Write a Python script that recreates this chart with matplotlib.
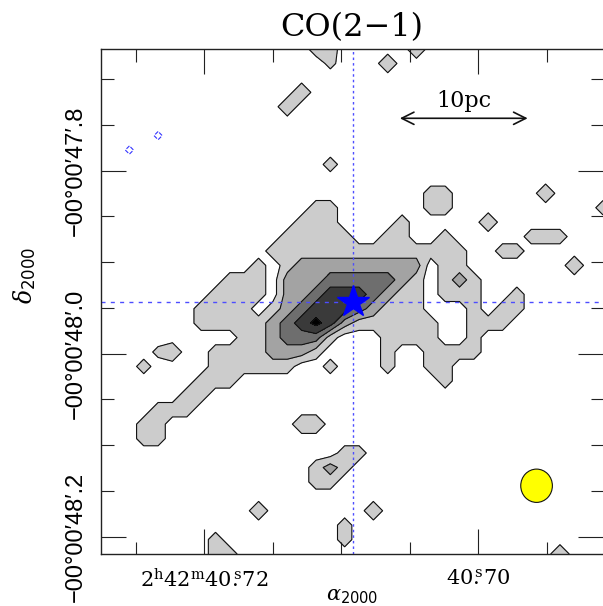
import numpy as np
import matplotlib.pyplot as plt
from matplotlib.patches import Ellipse
from matplotlib.ticker import MultipleLocator

# map grid: RA in seconds of 2h42m, Dec in arcsec of -00d00m
n_ra, n_dec = 36, 36
ra_first, ra_last = 40.72756, 40.69089
dec_first, dec_last = -47.6670, -48.2189

# contour level of each map pixel, stored as runs: (row, first column, levels)
# '.' below first contour, 'a'/'b' weak/strong first level, 'k' peak, '-' negative
map_runs = [
    (0, 15, "11"), (0, 22, "b"),
    (1, 16, "a"), (1, 20, "b"),
    (3, 14, "b"),
    (4, 13, "b"),
    (6, 4, "-"),
    (7, 2, "-"),
    (8, 16, "1"),
    (10, 23, "11"), (10, 31, "b"),
    (11, 15, "11"), (11, 23, "11"), (11, 35, "1"),
    (12, 14, "111"), (12, 21, "1"), (12, 27, "b"),
    (13, 13, "11111..11..1"), (13, 30, "111"),
    (14, 12, "11111111111111"), (14, 28, "11"),
    (15, 11, "1.1222222222.11"), (15, 33, "b"),
    (16, 9, "111.2223333321.121"),
    (17, 8, "1111.2234443211.111..1"),
    (18, 7, "1111.12344432111...1.11"),
    (19, 7, "11111234k42111111..111"),
    (20, 10, "1123331...1111..1"),
    (21, 4, "ab..11112221....1..1111"),
    (22, 3, "1....111111..1...1..11"),
    (23, 7, "111"), (23, 24, "1"),
    (24, 6, "11"),
    (25, 4, "111"),
    (26, 3, "11"), (26, 14, "bb"),
    (27, 3, "11"),
    (28, 17, "11"),
    (29, 15, "121"),
    (30, 15, "11"),
    (32, 11, "b"), (32, 19, "b"),
    (33, 17, "1"),
    (34, 8, "1"), (34, 17, "1"),
    (35, 8, "11"), (35, 32, "b"),
]
level_values = {'.': 0.0, 'a': 0.8, '1': 1.0, 'b': 1.4, '2': 2.0, '3': 3.0,
                '4': 4.0, 'k': 4.8, '-': -0.7}

contour_levels = [0.5, 1.5, 2.5, 3.5, 4.5]
fill_colors = ['#cccccc', '#a3a3a3', '#6e6e6e', '#3a3a3a', '#000000']

star_ra, star_dec = 40.70917, -47.9430
beam_ra, beam_dec = 40.69574, -48.1443
beam_w, beam_h = 0.00231, 0.0364
bar_ra = [40.70572, 40.69639]
bar_dec = -47.7427
bar_label = '10pc'

ra_ticks = [40.72, 40.70]
ra_labels = [r'$2^{\rm h}42^{\rm m}40\overset{\rm s}{.}72$', r'$40\overset{\rm s}{.}70$']
dec_ticks = [-47.8, -48.0, -48.2]
dec_labels = ['−00°00′47′.8', '−00°00′48′.0', '−00°00′48′.2']

plt.rcParams['mathtext.fontset'] = 'dejavuserif'

z = np.zeros((n_dec, n_ra))
for row, col, vals in map_runs:
    for k, ch in enumerate(vals):
        z[row, col + k] = level_values[ch]
ra = np.linspace(ra_first, ra_last, n_ra)
dec = np.linspace(dec_first, dec_last, n_dec)

fig = plt.figure(figsize=(6.03, 6.06), dpi=100)
ax = fig.add_axes([0.167, 0.0858, 0.833, 0.8333])

ax.contourf(ra, dec, z, levels=contour_levels + [10], colors=fill_colors)
ax.contour(ra, dec, z, levels=contour_levels, colors='#111111', linewidths=0.8)
ax.contour(ra, dec, z, levels=[-0.5], colors='#3333ff', linewidths=0.8,
           linestyles='dashed')

# source position
ax.axvline(star_ra, color='#4d4dff', lw=1.0, ls=(0, (1.8, 2.2)))
ax.axhline(star_dec, color='#4d4dff', lw=1.0, ls=(0, (2.9, 3.8)))
ax.plot(star_ra, star_dec, marker='*', ms=24, color='#0000ff', mec='#0000ff')

# beam
ax.add_patch(Ellipse((beam_ra, beam_dec), beam_w, beam_h, fc='#ffff00',
                     ec='#111111', lw=0.8, zorder=5))

# scale bar
ax.annotate('', xy=(bar_ra[0], bar_dec), xytext=(bar_ra[1], bar_dec),
            arrowprops=dict(arrowstyle='<->', lw=1.2, color='#111111',
                            mutation_scale=22, shrinkA=0, shrinkB=0))
ax.annotate(bar_label, xy=(np.mean(bar_ra), bar_dec), xytext=(0, 8),
            textcoords='offset points', ha='center', va='baseline',
            fontsize=16, family='DejaVu Serif')

ax.set_xlim(ra_first, ra_last)
ax.set_ylim(dec_last, dec_first)

ax.set_xticks(ra_ticks, labels=ra_labels, fontsize=15)
ax.xaxis.set_minor_locator(MultipleLocator(0.005))
ax.set_yticks(dec_ticks, labels=dec_labels, fontsize=17, rotation=90, va='center',
              family=['Liberation Sans', 'DejaVu Sans'])
ax.yaxis.set_minor_locator(MultipleLocator(0.05))
ax.tick_params(which='both', direction='in', top=True, right=True, width=0.8,
               color='#222222')
ax.tick_params(which='major', length=18)
ax.tick_params(which='minor', length=9)
ax.tick_params(axis='x', pad=10)
ax.tick_params(axis='y', pad=10)

for side in ['left', 'bottom', 'top']:
    ax.spines[side].set_linewidth(1.0)
    ax.spines[side].set_color('#222222')
ax.spines['right'].set_visible(False)

ax.set_title('CO(2−1)', fontsize=23, family='DejaVu Serif', pad=9)
ax.set_xlabel(r'$\alpha_{\mathsf{2000}}$', fontsize=15)
ax.xaxis.set_label_coords(0.5, -0.064)
ax.set_ylabel(r'$\delta_{\mathsf{2000}}$', fontsize=17)
ax.yaxis.set_label_coords(-0.125, 0.552)

fig.savefig('out.png', dpi=100)
